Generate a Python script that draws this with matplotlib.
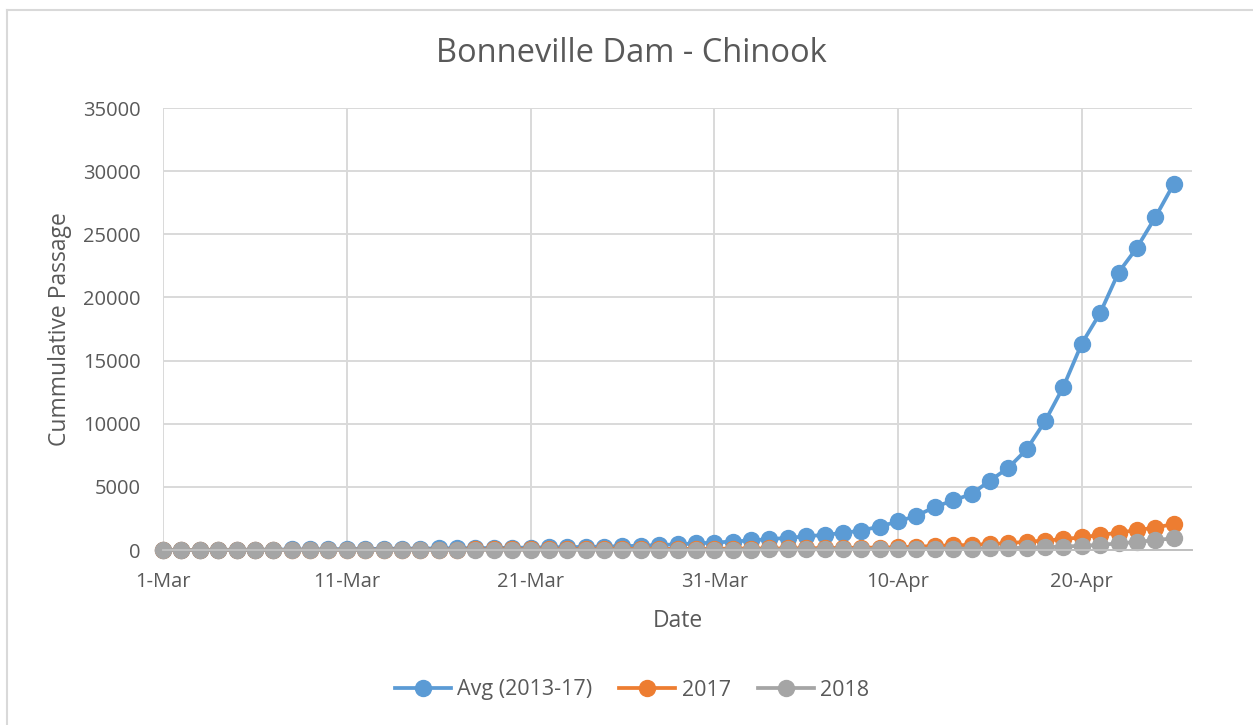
import numpy as np
import pandas as pd
import matplotlib
matplotlib.use("Agg")
import matplotlib.pyplot as plt
from matplotlib.lines import Line2D

# cumulative counts, one value per day from 1-Mar to 25-Apr
dates = pd.date_range("2018-03-01", periods=56, freq="D")

avg_2013_17 = [0, 5, 10, 15, 20, 25, 35, 45, 55, 65,
               75, 85, 95, 105, 115, 125, 135, 150, 160, 175,
               190, 205, 225, 245, 270, 300, 340, 390, 450, 520,
               590, 670, 760, 860, 960, 1080, 1200, 1350, 1540, 1860,
               2260, 2710, 3400, 3930, 4430, 5490, 6500, 7960, 10190, 12920,
               16340, 18760, 21970, 23930, 26340, 28970]

y2017 = [0, 0, 2, 4, 6, 8, 10, 12, 15, 18,
         20, 22, 25, 28, 30, 33, 36, 40, 44, 48,
         52, 56, 60, 65, 70, 75, 80, 85, 90, 95,
         100, 110, 115, 120, 130, 140, 150, 165, 180, 195,
         210, 260, 320, 370, 400, 475, 530, 660, 740, 870,
         1000, 1190, 1370, 1580, 1770, 2060]

y2018 = [0, 0, 0, 1, 1, 2, 2, 3, 3, 4,
         4, 5, 5, 6, 6, 7, 8, 9, 10, 11,
         12, 13, 14, 15, 16, 18, 20, 22, 24, 26,
         28, 30, 35, 40, 45, 50, 55, 60, 65, 70,
         80, 90, 95, 100, 110, 135, 165, 190, 215, 265,
         340, 400, 530, 630, 790, 920]

names = ["Avg (2013-17)", "2017", "2018"]
colors = ["#5B9BD5", "#ED7D31", "#A5A5A5"]
series = [avg_2013_17, y2017, y2018]

W, H = 1253, 725
fig = plt.figure(figsize=(W / 100, H / 100), dpi=100)
plt.rcParams['font.family'] = ['Open Sans', 'DejaVu Sans']
text_col = "#595959"

ax = fig.add_axes([163 / W, 1 - 550 / H, (1192 - 163) / W, (550 - 108) / H])

for vals, name, c in zip(series, names, colors):
    ax.plot(dates, vals, color=c, lw=2.7, marker="o", ms=11.5,
            markeredgecolor=c, label=name, clip_on=False)

ax.set_ylim(0, 35000)
ax.set_yticks(np.arange(0, 35001, 5000))
ax.set_xlim(dates[0], dates[0] + pd.Timedelta(days=56))
ticks = [dates[0] + pd.Timedelta(days=10 * i) for i in range(6)]
ax.set_xticks(ticks)
ax.set_xticklabels([f"{t.day}-{t.strftime('%b')}" for t in ticks])

ax.grid(True, color="#d9d9d9", lw=1.4)
ax.set_axisbelow(True)
for s in ["top", "right", "left"]:
    ax.spines[s].set_visible(False)
ax.spines["bottom"].set_color("#bfbfbf")
ax.spines["bottom"].set_linewidth(1.4)
ax.tick_params(length=0, labelsize=14.5, labelcolor=text_col, pad=16)

fig.text(631 / W, 1 - 53 / H, "Bonneville Dam - Chinook", ha="center", va="center",
         fontsize=23.5, color=text_col)
fig.text(678 / W, 1 - 621 / H, "Date", ha="center", va="center",
         fontsize=16.5, color=text_col)
fig.text(60 / W, 1 - 329 / H, "Cummulative Passage", ha="center", va="center",
         rotation=90, fontsize=16.5, color=text_col)

handles = [Line2D([], [], color=c, lw=2.7, marker="o", ms=11.5) for c in colors]
fig.legend(handles, names, loc="center", bbox_to_anchor=(632 / W, 1 - 690 / H),
           ncol=3, frameon=False, fontsize=15.5, labelcolor=text_col,
           handlelength=2.6, columnspacing=1.25, handletextpad=0.3)

# outer chart border (only left and top edges fall inside the picture)
fig.add_artist(Line2D([7 / W, 7 / W], [0, 1 - 10 / H], color="#d9d9d9", lw=1.5))
fig.add_artist(Line2D([7 / W, 1], [1 - 10 / H, 1 - 10 / H], color="#d9d9d9", lw=1.5))

fig.savefig("out.png", dpi=100)
